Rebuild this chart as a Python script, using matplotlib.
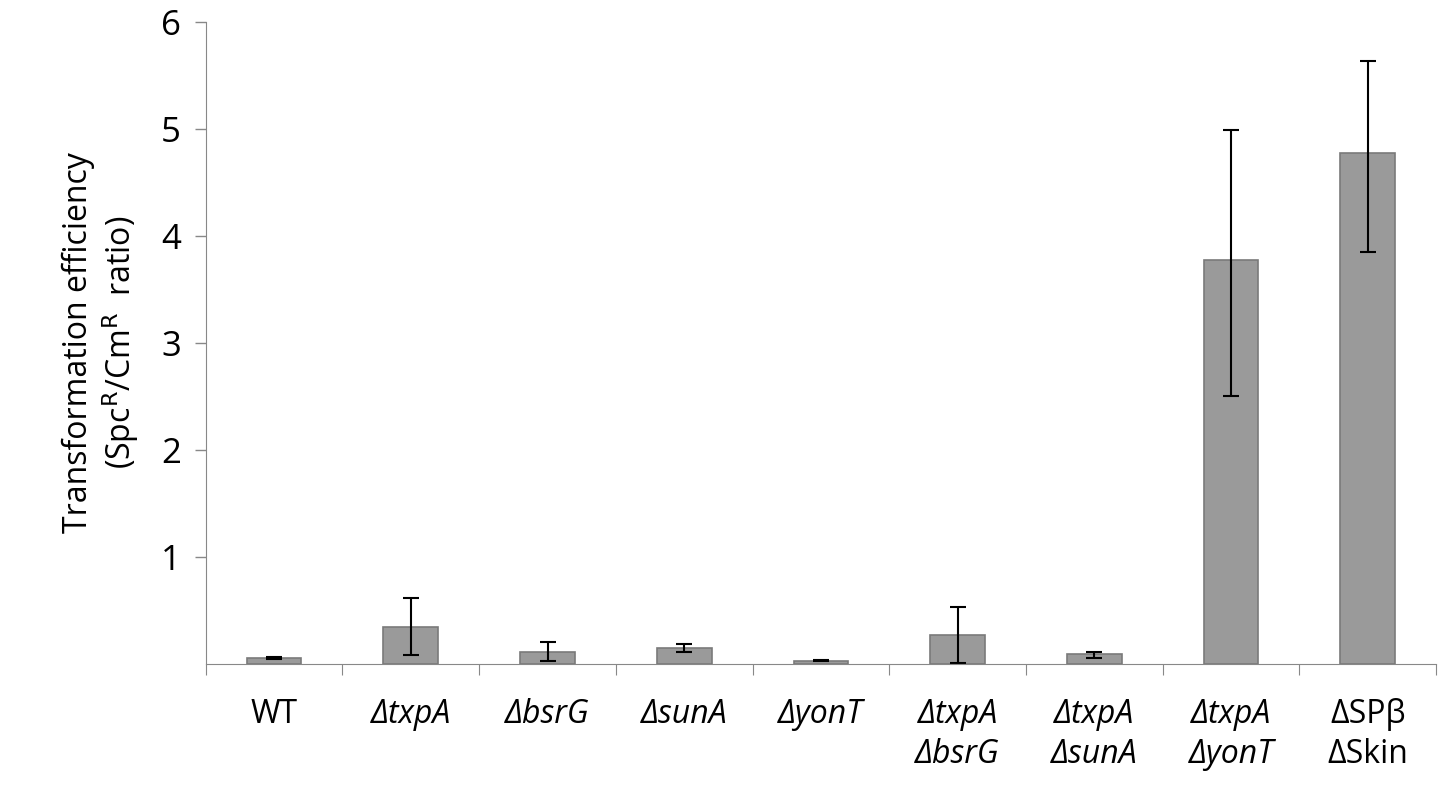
import matplotlib
matplotlib.use("Agg")
import matplotlib.pyplot as plt
import numpy as np

labels = ["WT", "ΔtxpA", "ΔbsrG", "ΔsunA", "ΔyonT", "ΔtxpA\nΔbsrG", "ΔtxpA\nΔsunA", "ΔtxpA\nΔyonT", "ΔSPβ\nΔSkin"]
italic = [False, True, True, True, True, True, True, True, False]
values = [0.06, 0.35, 0.11, 0.15, 0.03, 0.27, 0.09, 3.77, 4.77]
err_lo = [0.05, 0.08, 0.03, 0.11, 0.025, 0.01, 0.06, 2.50, 3.85]
err_hi = [0.07, 0.62, 0.21, 0.19, 0.035, 0.53, 0.11, 4.99, 5.63]

plt.rcParams['font.family'] = ['Open Sans', 'DejaVu Sans']
fig = plt.figure(figsize=(14.39, 8.0), dpi=100)
ax = fig.add_axes([0.143, 0.17, 0.855, 0.803])
x = np.arange(len(labels))
v = np.array(values)
yerr = [v - np.array(err_lo), np.array(err_hi) - v]
ax.bar(x, v, width=0.4, color="#9a9a9a", edgecolor="#7a7a7a", linewidth=1.2)
ax.errorbar(x, v, yerr=yerr, fmt="none", ecolor="black", elinewidth=1.5, capsize=6, capthick=1.5)
ax.set_xlim(-0.5, len(labels) - 0.5)
ax.set_ylim(0, 6)
ax.set_yticks([1, 2, 3, 4, 5, 6])
ax.tick_params(axis='y', labelsize=25, length=8, width=1, color="#888888", pad=10)
ax.set_xticks(np.arange(len(labels) + 1) - 0.5, minor=False)
ax.set_xticklabels([])
ax.tick_params(axis='x', length=8, color="#888888")
for i, (lab, it) in enumerate(zip(labels, italic)):
    ax.text(i, -0.32, lab, ha='center', va='top', fontsize=23,
            fontstyle='italic' if it else 'normal', linespacing=1.25,
            transform=ax.transData)
for s in ['top', 'right']:
    ax.spines[s].set_visible(False)
for s in ['left', 'bottom']:
    ax.spines[s].set_color("#888888")
ax.set_ylabel("Transformation efficiency\n(Spc$^{\\mathrm{R}}$/Cm$^{\\mathrm{R}}$  ratio)", fontsize=23, labelpad=14)
fig.savefig("out.png", dpi=100)
